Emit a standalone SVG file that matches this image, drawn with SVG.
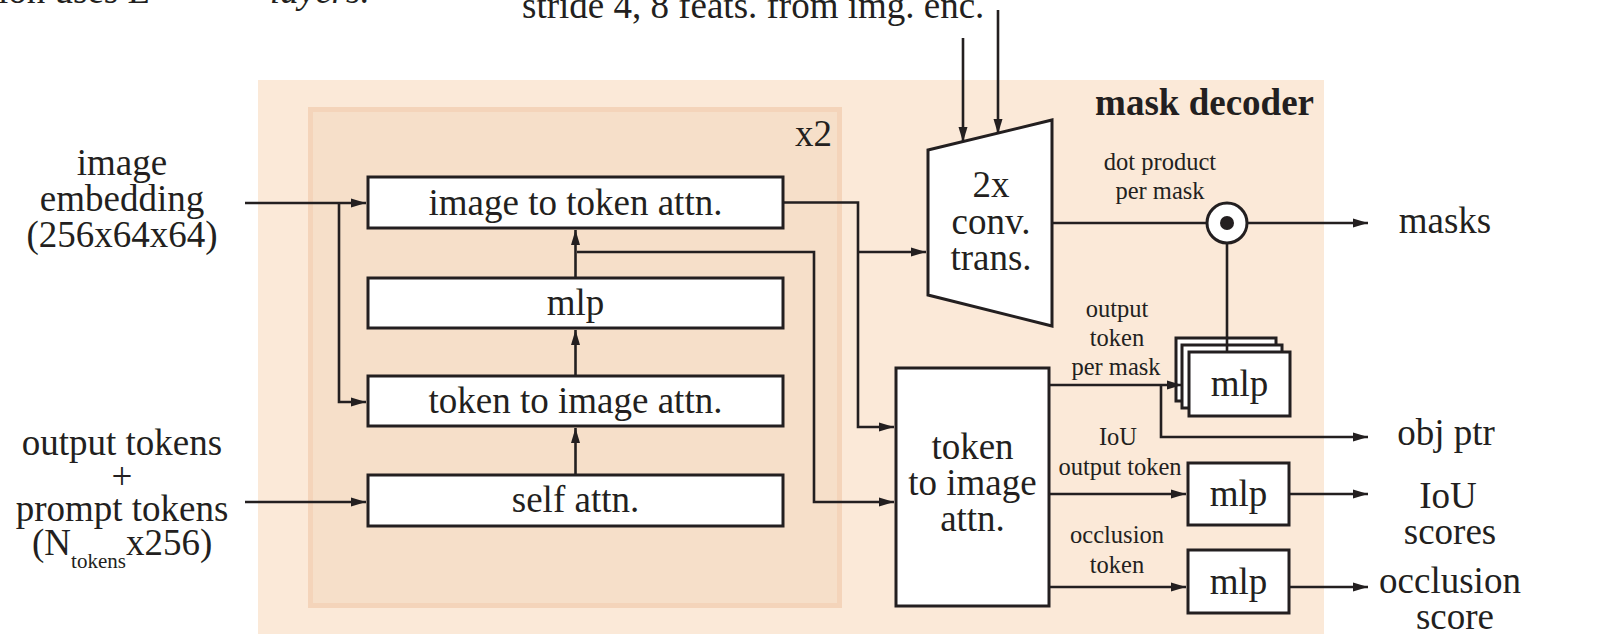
<svg xmlns="http://www.w3.org/2000/svg" width="1616" height="640" viewBox="0 0 1616 640">
<defs>
<marker id="ah" markerUnits="userSpaceOnUse" markerWidth="15" markerHeight="10" refX="15" refY="5" orient="auto">
<path d="M0,0.5 L15,5 L0,9.5 z" fill="#231f20"/>
</marker>
<style>
.t{font-family:"Liberation Serif","Times New Roman",serif;font-size:37px;fill:#231f20}
.s{font-family:"Liberation Serif","Times New Roman",serif;font-size:24.5px;fill:#231f20}
.m{text-anchor:middle}
.box{fill:#fff;stroke:#231f20;stroke-width:3}
.c{fill:none;stroke:#231f20;stroke-width:2.6}
.a{marker-end:url(#ah)}
</style>
</defs>
<rect width="1616" height="640" fill="#fff"/>
<text class="t" x="-2" y="3">ion uses L</text>
<text class="t" x="270" y="3" font-style="italic">layers.</text>
<g id="mask-decoder">
<rect x="258" y="80" width="1066" height="554" fill="#fbe9d8"/>
<text class="t" x="1314" y="115" text-anchor="end" font-weight="bold" font-size="36">mask decoder</text>
</g>
<g id="repeat-block">
<rect x="310.5" y="109.5" width="529" height="496" fill="#f6dfc9" stroke="#f4d4ba" stroke-width="5"/>
<text class="t" x="832" y="146" text-anchor="end">x2</text>
</g>
<g id="input-image-embedding">
<text class="t m" x="122" y="175">image</text>
<text class="t m" x="122" y="211">embedding</text>
<text class="t m" x="122" y="247">(256x64x64)</text>
</g>
<g id="input-tokens">
<text class="t m" x="122" y="455">output tokens</text>
<text class="t m" x="122" y="489">+</text>
<text class="t m" x="122" y="521">prompt tokens</text>
<text class="t" x="32" y="555">(N<tspan font-size="21" dy="13">tokens</tspan><tspan dy="-13">x256)</tspan></text>
</g>
<g id="image-to-token-attn">
<rect class="box" x="368" y="177" width="415" height="51"/>
<text class="t m" x="575.5" y="215">image to token attn.</text>
</g>
<g id="mlp-block">
<rect class="box" x="368" y="278" width="415" height="50"/>
<text class="t m" x="575.5" y="315">mlp</text>
</g>
<g id="token-to-image-attn">
<rect class="box" x="368" y="376" width="415" height="50"/>
<text class="t m" x="575.5" y="413">token to image attn.</text>
</g>
<g id="self-attn">
<rect class="box" x="368" y="475" width="415" height="51"/>
<text class="t m" x="575.5" y="512">self attn.</text>
</g>
<g id="conv-trans">
<polygon class="box" points="928,150 1052,120 1052,326 928,295"/>
<text class="t m" x="991" y="197">2x</text>
<text class="t m" x="991" y="234">conv.</text>
<text class="t m" x="991" y="270">trans.</text>
</g>
<g id="token-to-image-attn-final">
<rect class="box" x="896" y="368" width="153" height="238"/>
<text class="t m" x="972.5" y="459">token</text>
<text class="t m" x="972.5" y="495">to image</text>
<text class="t m" x="972.5" y="531">attn.</text>
</g>
<g id="dot-product">
<circle cx="1227" cy="223" r="20" fill="#fff" stroke="#231f20" stroke-width="3"/>
<circle cx="1227" cy="223" r="7" fill="#231f20"/>
</g>
<g id="mlp-stack">
<rect class="box" x="1176" y="338" width="100" height="63"/>
<rect class="box" x="1182" y="345" width="100" height="63"/>
</g>
<g id="mlp-iou">
<rect class="box" x="1188" y="463" width="101" height="62"/>
<text class="t m" x="1238.5" y="506">mlp</text>
</g>
<g id="mlp-occlusion">
<rect class="box" x="1188" y="550" width="101" height="63"/>
<text class="t m" x="1238.5" y="594">mlp</text>
</g>
<g id="connectors">
<path class="c a" d="M245,203 H366"/>
<path class="c a" d="M339,203 V402 H366"/>
<path class="c a" d="M245,502 H366"/>
<path class="c a" d="M575.5,474 V428"/>
<path class="c a" d="M575.5,375 V330"/>
<path class="c a" d="M575.5,277 V230"/>
<path class="c a" d="M577,252 H814 V502 H894"/>
<path class="c a" d="M783,202.5 H858 V427 H894"/>
<path class="c a" d="M858,252 H926"/>
<path class="c a" d="M963,38 V142"/>
<path class="c a" d="M998,10 V134"/>
<path class="c" d="M1052,223 H1207"/>
<path class="c a" d="M1247,223 H1368"/>
<path class="c" d="M1227,243 V352"/>
<path class="c a" d="M1049,385 H1182"/>
<path class="c a" d="M1161,385 V437 H1368"/>
<path class="c a" d="M1049,494 H1186"/>
<path class="c a" d="M1289,494 H1368"/>
<path class="c a" d="M1049,587 H1186"/>
<path class="c a" d="M1289,587 H1368"/>
</g>
<g id="mlp-mask">
<rect class="box" x="1189" y="352" width="101" height="64"/>
<text class="t m" x="1239.5" y="396">mlp</text>
</g>
<g id="labels">
<text class="t" x="522" y="18">stride 4, 8 feats. from img. enc.</text>
<text class="s m" x="1160" y="170">dot product</text>
<text class="s m" x="1160" y="199">per mask</text>
<text class="s m" x="1117" y="317">output</text>
<text class="s m" x="1117" y="346">token</text>
<text class="s m" x="1116" y="375">per mask</text>
<text class="s m" x="1118" y="445">IoU</text>
<text class="s m" x="1120" y="475">output token</text>
<text class="s m" x="1117" y="543">occlusion</text>
<text class="s m" x="1117" y="573">token</text>
<text class="t m" x="1445" y="233">masks</text>
<text class="t m" x="1446" y="445">obj ptr</text>
<text class="t m" x="1448" y="508">IoU</text>
<text class="t m" x="1450" y="544">scores</text>
<text class="t m" x="1450" y="593">occlusion</text>
<text class="t m" x="1455" y="629">score</text>
</g>
</svg>
